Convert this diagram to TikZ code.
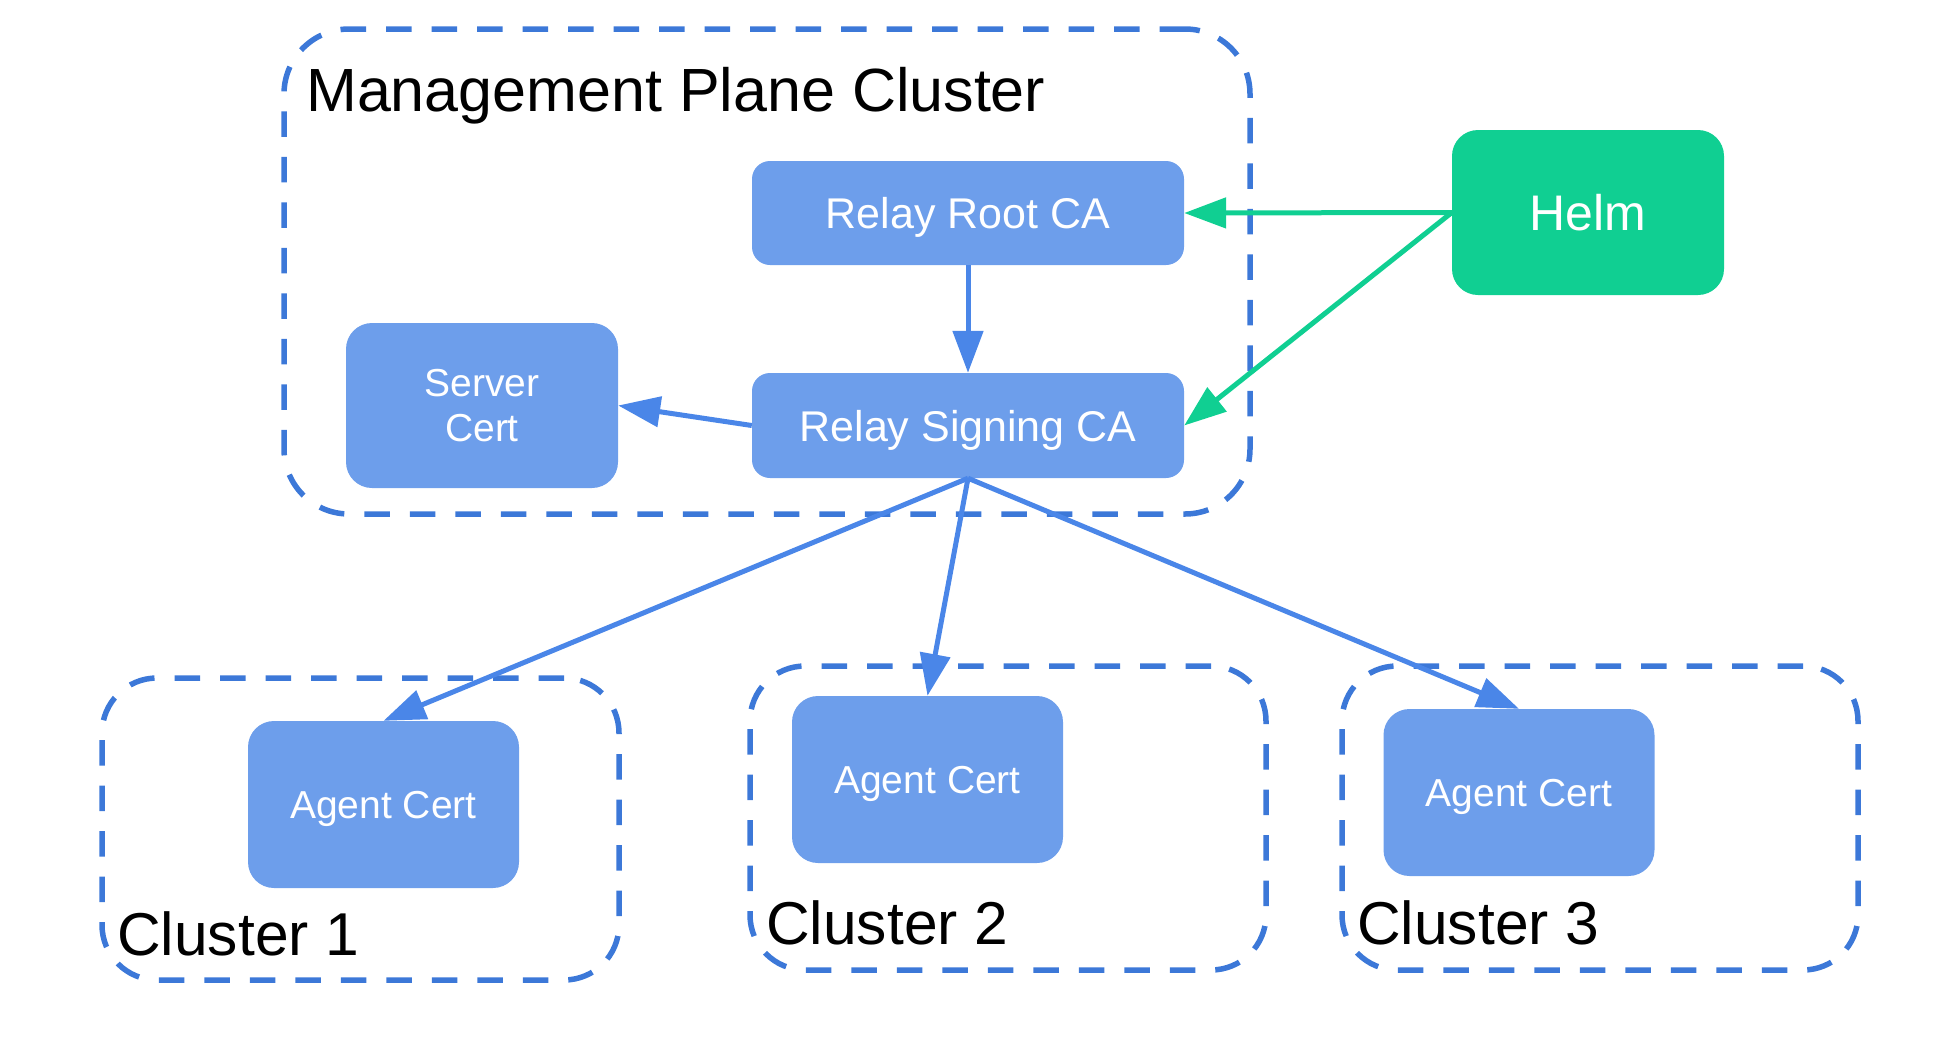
\documentclass[tikz,border=0pt]{standalone}
\usepackage{fontspec}
\setmainfont{Liberation Sans}
\usetikzlibrary{arrows.meta}
\definecolor{boxfill}{RGB}{109,158,235}
\definecolor{framecol}{RGB}{60,120,216}
\definecolor{arrowblue}{RGB}{74,134,232}
\definecolor{helmgreen}{RGB}{16,207,146}
\tikzset{
  bluebox/.style={draw=none, fill=boxfill, rounded corners=#1, text=white, align=center, inner sep=0pt},
  bluebox/.default=26pt,
  oneline/.style={text depth=0pt},
  frame/.style={draw=framecol, line width=5.5pt, dash pattern=on 25.5pt off 20pt, rounded corners=#1, inner sep=0pt},
  frame/.default=55pt,
  blarrow/.style={draw=arrowblue, line width=5pt, -{Triangle[length=42pt,width=30pt]}},
  grarrow/.style={draw=helmgreen, line width=5pt, -{Triangle[length=42pt,width=30pt]}},
  clabel/.style={anchor=base west, inner sep=0pt, font=\fontsize{60.5}{70}\selectfont}
}
\begin{document}
\begin{tikzpicture}[x=1pt, y=-1pt]
\useasboundingbox (0,0) rectangle (1946,1058);
% frames
\node[frame=65pt, minimum width=966pt, minimum height=485pt] (mgmt) at (767,271.5) {};
\node[frame, minimum width=517pt, minimum height=302pt] (c1) at (360.5,829) {};
\node[frame, minimum width=516pt, minimum height=304pt] (c2) at (1008,818) {};
\node[frame, minimum width=516pt, minimum height=304pt] (c3) at (1600,818) {};
% labels
\node[anchor=base west, inner sep=0pt, font=\fontsize{61}{72}\selectfont] (mtitle) at (306,111) {Management Plane Cluster};
\node[clabel] (l1) at (117,955) {Cluster 1};
\node[clabel] (l2) at (766,944) {Cluster 2};
\node[clabel] (l3) at (1357,944) {Cluster 3};
% boxes
\node[bluebox=18pt, oneline, minimum width=432pt, minimum height=104pt, font=\fontsize{43}{50}\selectfont] (root) at (968,213) {Relay Root CA};
\node[bluebox=18pt, oneline, minimum width=432pt, minimum height=105pt, font=\fontsize{43}{50}\selectfont] (sign) at (968,425.5) {Relay Signing CA};
\node[bluebox, minimum width=272pt, minimum height=165pt, font=\fontsize{39}{45}\selectfont] (server) at (482,405.5) {Server\\Cert};
\node[bluebox, oneline, fill=helmgreen, minimum width=272pt, minimum height=165pt, font=\fontsize{50}{58}\selectfont] (helm) at (1588,212.5) {Helm};
\node[bluebox, oneline, minimum width=271pt, minimum height=167pt, font=\fontsize{39}{45}\selectfont] (a1) at (383.5,804.5) {Agent Cert};
\node[bluebox, oneline, minimum width=271pt, minimum height=167pt, font=\fontsize{39}{45}\selectfont] (a2) at (927.5,779.5) {Agent Cert};
\node[bluebox, oneline, minimum width=271pt, minimum height=167pt, font=\fontsize{39}{45}\selectfont] (a3) at (1519,792.5) {Agent Cert};
% arrows
\draw[blarrow] (root.south) -- (sign.north);
\draw[blarrow] (sign.west) -- (server.east);
\draw[grarrow] (helm.west) -- (root.east);
\draw[grarrow] (helm.west) -- (sign.east);
\draw[blarrow] (sign.south) -- (a1.north);
\draw[blarrow] (sign.south) -- (a2.north);
\draw[blarrow] (sign.south) -- (a3.north);
\end{tikzpicture}
\end{document}
